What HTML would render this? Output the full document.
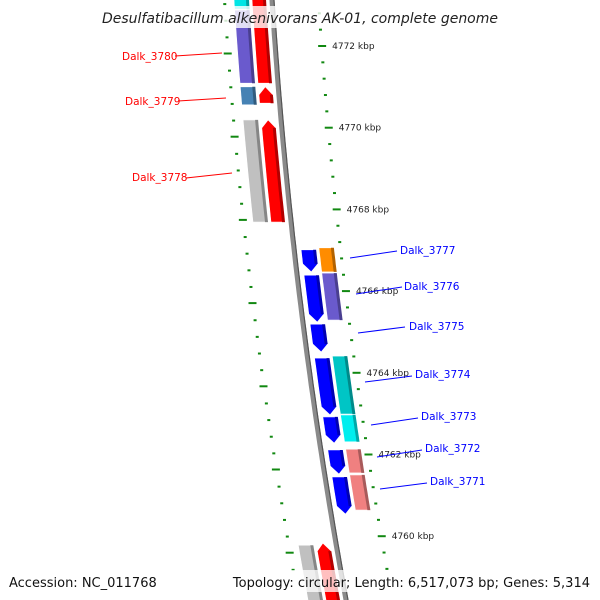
<!DOCTYPE html>
<html><head><meta charset="utf-8"><style>
html,body{margin:0;padding:0;background:#fff}
svg{display:block;font-family:"DejaVu Sans","Liberation Sans",sans-serif}
</style></head><body>
<svg id="map" width="600" height="600" viewBox="0 0 600 600" xmlns="http://www.w3.org/2000/svg">
<g id="ticks"></g>
<g id="feat"></g>
<g id="bb"></g>
<g id="labels"></g>
<rect x="100" y="6" width="400" height="22" fill="#fff" fill-opacity="0.8"/>
<text x="300" y="23" text-anchor="middle" font-style="italic" font-size="14" fill="#222">Desulfatibacillum alkenivorans AK-01, complete genome</text>
<text x="9" y="587" font-size="13" fill="#111">Accession: NC_011768</text>
<rect x="258" y="570" width="336" height="22" fill="#fff" fill-opacity="0.75"/>
<text x="590" y="587" text-anchor="end" font-size="13" fill="#111">Topology: circular; Length: 6,517,073 bp; Genes: 5,314</text>
</svg>
<script>
// Data (kbp)
const rightMajorKbp = [4772, 4770, 4768, 4766, 4764, 4762, 4760];
const featStart = [4773.3, 4771.0, 4770.19, 4773.3, 4772.88, 4771.0, 4770.19,
  4767.01, 4766.39, 4765.19, 4764.36, 4762.92, 4762.11, 4761.45,
  4767.06, 4766.44, 4764.41, 4762.97, 4762.13, 4761.50, 4759.78, 4759.83];
const featEnd = [4771.09, 4770.60, 4767.69, 4772.9, 4771.09, 4770.56, 4767.69,
  4766.47, 4765.24, 4764.51, 4762.97, 4762.28, 4761.52, 4760.54,
  4766.47, 4765.29, 4762.99, 4762.31, 4761.55, 4760.64, 4758.2, 4758.2];
const featRing = [1,1,1,2,2,2,2, 3,3,3,3,3,3,3, 4,4,4,4,4,4, 2,1];
const featStrand = [0,1,1,0,0,0,0, -1,-1,-1,-1,-1,-1,-1, 0,0,0,0,0,0, 0,1];
const featColor = ['#ff0000','#ff0000','#ff0000','#00e5e5','#6a5acd','#4682b4','#c0c0c0',
  '#0000ff','#0000ff','#0000ff','#0000ff','#0000ff','#0000ff','#0000ff',
  '#ff8c00','#6a5acd','#00c5c5','#00eeee','#f08080','#f08080','#c0c0c0','#ff0000'];
const labelNames = ['Dalk_3780','Dalk_3779','Dalk_3778','Dalk_3777','Dalk_3776','Dalk_3775','Dalk_3774','Dalk_3773','Dalk_3772','Dalk_3771'];
const labelColor = ['#ff0000','#ff0000','#ff0000','#0000ff','#0000ff','#0000ff','#0000ff','#0000ff','#0000ff','#0000ff'];

const NS='http://www.w3.org/2000/svg';
function yOf(k){return 46+(4772-k)*40.85;}
function yOfLeft(k){return 54+(4772-k)*41.6;}
function bx(y){return 272+0.0636*y+0.0000996*y*y;}
const ringOff={1:[-20,-6],2:[-38,-23],3:[7,22],4:[25,40]};
function el(tag,attrs,parent){const e=document.createElementNS(NS,tag);for(const k in attrs)e.setAttribute(k,attrs[k]);parent.appendChild(e);return e;}

// backbone
const bb=document.getElementById('bb');
let pts=[];for(let y=-5;y<=605;y+=10)pts.push(bx(y).toFixed(1)+','+y);
const p1=el('polyline',{points:pts.join(' '),fill:'none',stroke:'#8a8a8a','stroke-width':5},bb);


pts=[];for(let y=-5;y<=605;y+=10)pts.push((bx(y)+2).toFixed(1)+','+y);
const p2=el('polyline',{points:pts.join(' '),fill:'none',stroke:'#555','stroke-width':1.2},bb);



// ticks
const tg=document.getElementById('ticks');
for(let i=0;i<=40;i++){
  const k=4773.2-i*0.4;
  const major=Math.abs(Math.round(k/2)*2-k)<0.05;
  // right ruler
  let y=yOf(k);
  if(y>-2&&y<570){
    const x=bx(y)+46;
    const t=el('line',{x1:x-(major?3:1),y1:y,x2:x+(major?5:2),y2:y,stroke:'#118811','stroke-width':2},tg);
    
    
  }
  // left ruler
  y=yOfLeft(k);
  if(y>-2&&y<575){
    const x=bx(y)-48;
    const t=el('line',{x1:x-(major?4:1),y1:y-(major?0.5:0),x2:x+(major?4:2),y2:y+(major?-0.5:0),stroke:'#118811','stroke-width':2},tg);
    
    
  }
}
rightMajorKbp.forEach(k=>{
  const y=yOf(k);
  const t=el('text',{x:bx(y)+57,y:y+3,'font-size':9,fill:'#222'},tg);
  t.textContent=k+' kbp';
  
  
});

// features
const fg=document.getElementById('feat');
function shade(c,f){const n=parseInt(c.slice(1),16);let r=n>>16,g=(n>>8)&255,b=n&255;r=Math.round(r*f);g=Math.round(g*f);b=Math.round(b*f);return 'rgb('+r+','+g+','+b+')';}
featStart.forEach((s,i)=>{
  const y1=yOf(s),y2=yOf(featEnd[i]);
  const [o1,o2]=ringOff[featRing[i]];
  const st=featStrand[i];const head=8;
  const left=[],right=[];
  const a=st===1?y1+head:y1, b=st===-1?y2-head:y2;
  for(let t=0;t<=6;t++){const y=a+(b-a)*t/6;left.push([bx(y)+o1,y]);right.push([bx(y)+o2,y]);}
  let poly=[];
  if(st===1){const yc=y1;poly.push([bx(yc)+(o1+o2)/2,yc]);}
  poly=poly.concat(right);
  if(st===-1){poly.push([bx(y2)+(o1+o2)/2,y2]);}
  poly=poly.concat(left.reverse());
  const g=el('g',{},fg);
  
  
  el('polygon',{points:poly.map(p=>p[0].toFixed(1)+','+p[1].toFixed(1)).join(' '),fill:featColor[i],stroke:'#fff','stroke-width':0.6},g);
  // dark right strip
  const strip=[];
  for(let t=0;t<=6;t++){const y=a+(b-a)*t/6;strip.push([bx(y)+o2-3,y]);}
  const sp=strip.concat(right.slice().reverse().map(p=>p));
  const sh=el('polygon',{points:strip.concat(right.slice().reverse()).map(p=>p[0].toFixed(1)+','+p[1].toFixed(1)).join(' '),fill:shade(featColor[i],0.7)},g);
  
  
});

// labels (text x,y, line x1,y1,x2,y2)
const labelPos=[[122,60,175,56,222,53],[125,105,178,101,226,98],[132,181,186,178,232,173],
  [400,254,350,258,397,251],[404,290,356,294,402,287],[409,330,358,333,405,327],
  [415,378,365,382,412,376],[421,420,371,425,418,418],[425,452,377,457,422,450],[430,485,380,489,427,483]];
const lg=document.getElementById('labels');
labelNames.forEach((n,i)=>{
  const p=labelPos[i];
  const g=el('g',{},lg);
  
  
  el('line',{x1:p[2],y1:p[3],x2:p[4],y2:p[5],stroke:labelColor[i],'stroke-width':1},g);
  const t=el('text',{x:p[0],y:p[1],'font-size':10.5,fill:labelColor[i]},g);
  t.textContent=n;
});
</script>
</body></html>
